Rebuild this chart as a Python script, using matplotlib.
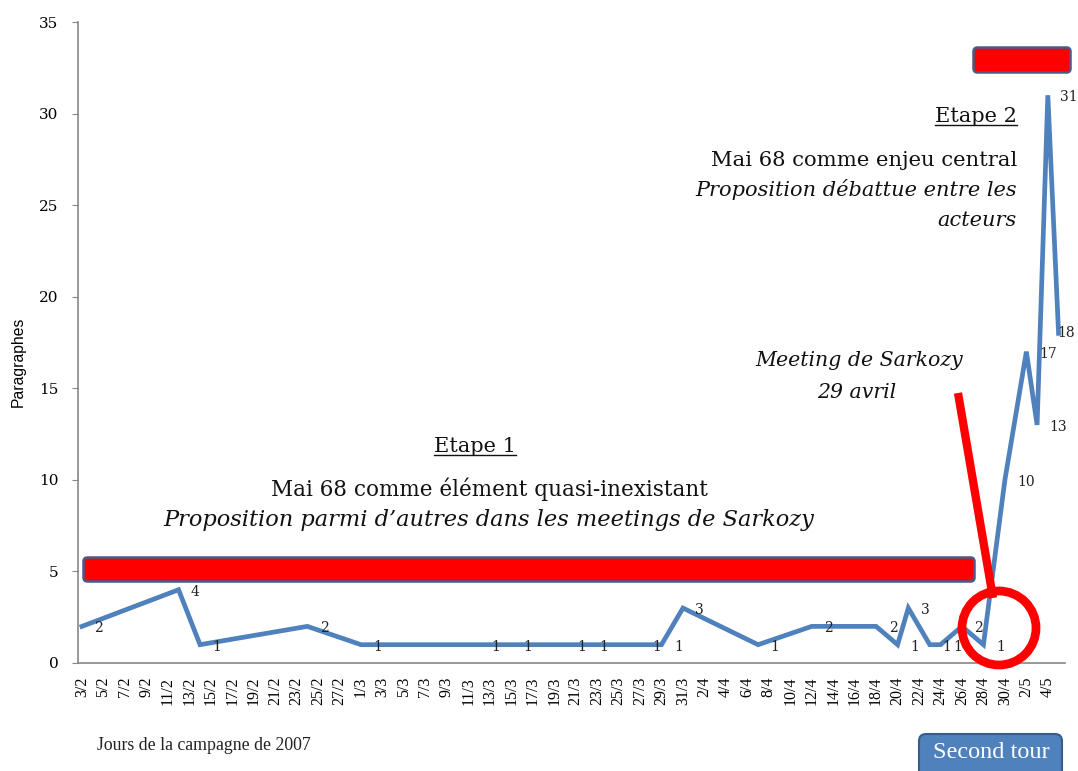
import matplotlib
matplotlib.use("Agg")
import matplotlib.pyplot as plt
from matplotlib.patches import FancyBboxPatch, Circle
from matplotlib.lines import Line2D
import datetime as dt

# ---- data ----
dates = ["3/2", "12/2", "14/2", "24/2", "1/3", "12/3", "15/3", "20/3", "22/3",
         "27/3", "29/3", "31/3", "7/4", "12/4", "18/4", "20/4", "21/4", "23/4",
         "24/4", "26/4", "28/4", "30/4", "2/5", "3/5", "4/5", "5/5"]
values = [2, 4, 1, 2, 1, 1, 1, 1, 1,
          1, 1, 3, 1, 2, 2, 1, 3, 1,
          1, 2, 1, 10, 17, 13, 31, 18]
tick_first = "3/2"
tick_last = "4/5"
y_ticks = [0, 5, 10, 15, 20, 25, 30, 35]

YEAR = 2007
BASE = dt.date(YEAR, 2, 3)


def to_day(s):
    d, m = map(int, s.split("/"))
    return (dt.date(YEAR, m, d) - BASE).days


xd = [to_day(s) for s in dates]
tick_days = list(range(to_day(tick_first), to_day(tick_last) + 1, 2))
tick_labels = []
for k in tick_days:
    d = BASE + dt.timedelta(days=k)
    tick_labels.append(f"{d.day}/{d.month}")

W, H = 1078, 771
fig = plt.figure(figsize=(W / 100, H / 100), dpi=100)
fig.patch.set_facecolor("white")

L, R, T, B = 78, 1065, 22, 663
ax = fig.add_axes([L / W, 1 - B / H, (R - L) / W, (B - T) / H])
ax.plot(xd, values, color="#4f81bd", lw=3.4, solid_joinstyle="miter", zorder=3)
ax.set_xlim(-0.37, 91.6)
ax.set_ylim(0, 35)
ax.set_yticks(y_ticks)
ax.set_yticklabels([str(v) for v in y_ticks], family="DejaVu Serif", fontsize=11)
ax.set_xticks(tick_days)
ax.set_xticklabels(tick_labels, rotation=90, family="Liberation Serif", fontsize=11.5)
ax.tick_params(axis="x", length=0, pad=10)
ax.tick_params(axis="y", length=4, color="#868686", pad=10)
for s in ["top", "right"]:
    ax.spines[s].set_visible(False)
for s in ["left", "bottom"]:
    ax.spines[s].set_color("#868686")
    ax.spines[s].set_linewidth(1.2)
ax.set_ylabel("Paragraphes", family="Liberation Sans", fontsize=11.3)
ax.yaxis.set_label_coords(-0.053, 0.47)

last = len(values) - 1
for i, (x, v) in enumerate(zip(xd, values)):
    off = (-1, 0) if i == last else (9, -1.5)
    ax.annotate(str(v), (x, v), xytext=off, textcoords="offset points",
                ha="left", va="center", family="DejaVu Serif", fontsize=10,
                color="#222222", zorder=4)

# ---- overlay in pixel coordinates ----
ov = fig.add_axes([0, 0, 1, 1], zorder=5)
ov.set_xlim(0, W)
ov.set_ylim(H, 0)
ov.axis("off")
ov.patch.set_alpha(0)

ov.text(97, 745, "Jours de la campagne de 2007", family="Liberation Serif",
        fontsize=12.8, ha="left", va="center", color="#222222")

# red bars
ov.add_patch(FancyBboxPatch((85, 559), 888, 21, boxstyle="round,pad=1.5,rounding_size=4",
                            facecolor="#ff0000", edgecolor="#4a5a86", lw=1.8))
ov.add_patch(FancyBboxPatch((975, 49), 94, 22, boxstyle="round,pad=1.5,rounding_size=4",
                            facecolor="#ff0000", edgecolor="#4a5a86", lw=1.8))

# pointer line and circle
ov.add_line(Line2D([958, 993], [393, 598], color="#ff0000", lw=6, solid_capstyle="butt"))
ov.add_patch(Circle((999, 628), 37, facecolor="none", edgecolor="#ff0000", lw=6.3))

# Second tour box
ov.add_patch(FancyBboxPatch((920, 735), 141, 45, boxstyle="round,pad=1,rounding_size=7",
                            facecolor="#4f81bd", edgecolor="#385d8a", lw=1.5))
ov.text(991, 753, "Second tour", family="Liberation Serif", fontsize=17.5,
        ha="center", va="center", color="white")

txt_kw = dict(family="DejaVu Serif", color="#111111")
t1 = ov.text(475, 447, "Etape 1", ha="center", va="center", fontsize=15, **txt_kw)
ov.text(489, 489, "Mai 68 comme élément quasi-inexistant", ha="center", va="center",
        fontsize=15.5, **txt_kw)
ov.text(489, 520, "Proposition parmi d’autres dans les meetings de Sarkozy",
        ha="center", va="center", style="italic", fontsize=16.2, **txt_kw)

t2 = ov.text(1017, 117, "Etape 2", ha="right", va="center", fontsize=15, **txt_kw)
ov.text(1017, 160, "Mai 68 comme enjeu central", ha="right", va="center",
        fontsize=15.2, **txt_kw)
ov.text(1017, 190, "Proposition débattue entre les", ha="right", va="center",
        style="italic", fontsize=15, **txt_kw)
ov.text(1017, 221, "acteurs", ha="right", va="center", style="italic", fontsize=15, **txt_kw)

ov.text(859, 360, "Meeting de Sarkozy", ha="center", va="center", style="italic",
        fontsize=14.8, **txt_kw)
ov.text(857, 393, "29 avril", ha="center", va="center", style="italic",
        fontsize=14.8, **txt_kw)

# underline the "Etape" titles
fig.canvas.draw()
inv = ov.transData.inverted()
for t in (t1, t2):
    bb = t.get_window_extent()
    (x0, y0), (x1, _) = inv.transform([(bb.x0, bb.y0), (bb.x1, bb.y0)])
    ov.add_line(Line2D([x0, x1], [y0 - 2, y0 - 2], color="#111111", lw=1))

fig.savefig("out.png", dpi=100, facecolor="white")
